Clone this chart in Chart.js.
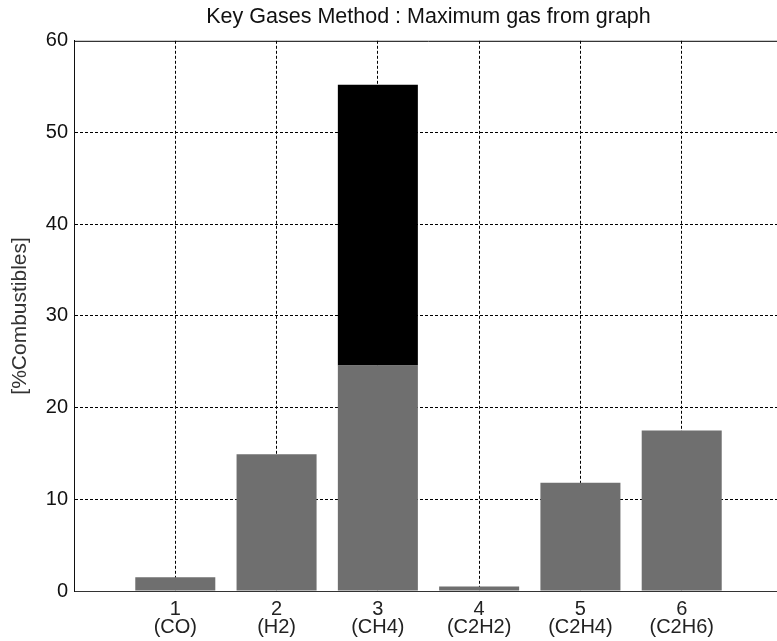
<!DOCTYPE html>
<html>
<head>
<meta charset="utf-8">
<script src="https://cdn.jsdelivr.net/npm/chart.js@4/dist/chart.umd.min.js"></script>
<style>
html,body{margin:0;padding:0;background:#fff;overflow:hidden;width:777px;height:641px;}
canvas{display:block;}
</style>
</head>
<body>
<canvas id="c" width="800" height="641"></canvas>
<script>
// Data
const gasIds = ['1', '2', '3', '4', '5', '6'];
const gasNames = ['(CO)', '(H2)', '(CH4)', '(C2H2)', '(C2H4)', '(C2H6)'];
const baseValues = [1.5, 14.9, 24.6, 0.5, 11.8, 17.5];   // grey part
const maxExtra = [0, 0, 30.6, 0, 0, 0];                  // black part (stacked, top of CH4 = 55.2)
const yTicks = [0, 10, 20, 30, 40, 50, 60];

// category axis spans 0..7 with the gases at 1..6
const labels = [''].concat(gasIds.map((id, i) => [id, gasNames[i]])).concat(['']);
const pad = arr => [null].concat(arr).concat([null]);

const FONT = '"Liberation Sans", Arial, Helvetica, sans-serif';

const frame = {
  id: 'frame',
  afterLayout(chart) {
    // centre the title over the plot area
    const t = chart.titleBlock;
    if (t) {
      t.left = chart.chartArea.left;
      t.right = chart.chartArea.right;
      t.width = t.right - t.left;
    }
  },
  afterDraw(chart) {
    const {ctx, chartArea} = chart;
    ctx.save();
    ctx.strokeStyle = '#000';
    ctx.lineWidth = 1;
    ctx.beginPath();
    ctx.moveTo(chartArea.left, chartArea.top + 0.5);
    ctx.lineTo(chartArea.right, chartArea.top + 0.5);
    ctx.stroke();
    ctx.restore();
  }
};

new Chart(document.getElementById('c'), {
  type: 'bar',
  data: {
    labels: labels,
    datasets: [
      { label: 'base', data: pad(baseValues), backgroundColor: '#6f6f6f', borderWidth: 0 },
      { label: 'max', data: pad(maxExtra), backgroundColor: '#000000', borderWidth: 0 }
    ]
  },
  options: {
    responsive: false,
    animation: false,
    layout: { padding: { left: 0, right: 17, top: 0, bottom: 0 } },
    datasets: { bar: { categoryPercentage: 1, barPercentage: 0.79 } },
    plugins: {
      legend: { display: false },
      tooltip: { enabled: false },
      title: {
        display: true,
        text: 'Key Gases Method : Maximum gas from graph',
        color: '#111',
        font: { family: FONT, size: 21.5, weight: 'normal', lineHeight: 1.2 },
        padding: { top: 4, bottom: 11 }
      }
    },
    scales: {
      x: {
        stacked: true,
        offset: false,
        grid: {
          offset: false,
          drawTicks: false,
          color: c => (c.index === 0 || c.index === labels.length - 1) ? 'rgba(0,0,0,0)' : '#000',
          lineWidth: 1
        },
        border: { display: true, color: '#333', width: 1, dash: [3, 2] },
        ticks: {
          autoSkip: false,
          maxRotation: 0,
          padding: 9,
          color: '#222',
          font: { family: FONT, size: 20, lineHeight: 0.92 }
        },
        afterFit: s => { s.height = 50; }
      },
      y: {
        stacked: true,
        min: yTicks[0],
        max: yTicks[yTicks.length - 1],
        afterBuildTicks: s => { s.ticks = yTicks.map(v => ({ value: v })); },
        grid: {
          drawTicks: false,
          color: c => (c.tick.value === yTicks[0] || c.tick.value === yTicks[yTicks.length - 1]) ? 'rgba(0,0,0,0)' : '#000',
          lineWidth: 1
        },
        border: { display: true, color: '#111', width: 1, dash: [3, 2] },
        ticks: {
          padding: 6,
          color: '#111',
          font: { family: FONT, size: 20 }
        },
        title: {
          display: true,
          text: '[%Combustibles]',
          color: '#333',
          font: { family: FONT, size: 21, lineHeight: 1.2 },
          padding: { top: 8, bottom: 0 }
        },
        afterFit: s => { s.width = 74; }
      }
    }
  },
  plugins: [frame]
});
</script>
</body>
</html>
